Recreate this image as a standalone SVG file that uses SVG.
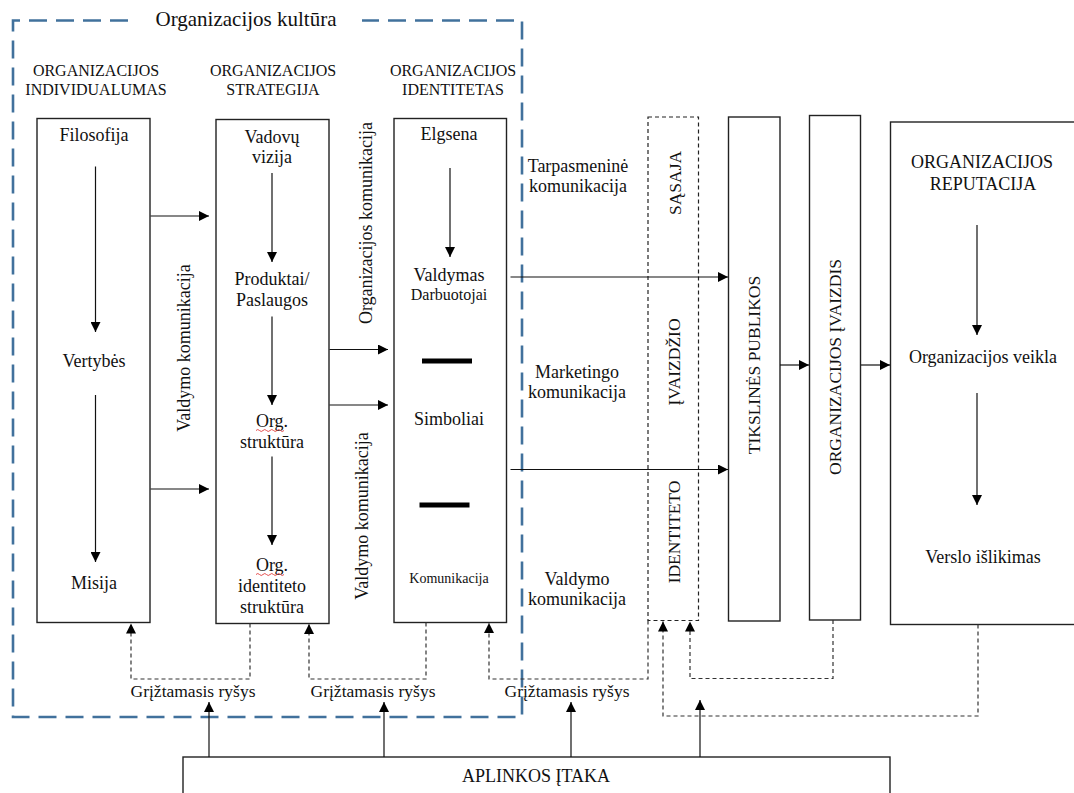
<svg xmlns="http://www.w3.org/2000/svg" width="1074" height="793" viewBox="0 0 1074 793" font-family="'Liberation Serif', 'Times New Roman', serif">
  <defs>
    <marker id="ah" markerUnits="userSpaceOnUse" markerWidth="11" markerHeight="10" refX="10" refY="5" orient="auto">
      <path d="M0,0 L10,5 L0,10 z" fill="#000"/>
    </marker>
    <style>
      text { font-family: "Liberation Serif", "Times New Roman", serif; fill: #111; }
      .c { text-anchor: middle; }
      .s18 { font-size: 18px; }
      .s17 { font-size: 17.5px; }
      .s16 { font-size: 16px; }
      .s14 { font-size: 14px; }
      .vt { text-anchor: middle; dominant-baseline: central; }
      .box { fill: #fff; stroke: #222; stroke-width: 1.4; }
      .dbox { fill: none; stroke: #222; stroke-width: 1.2; stroke-dasharray: 4 3; }
      .arr { fill: none; stroke: #111; stroke-width: 1.2; marker-end: url(#ah); }
      .fb { fill: none; stroke: #333; stroke-width: 1.2; stroke-dasharray: 4 3; marker-end: url(#ah); }
      .frame { fill: none; stroke: #41719C; stroke-width: 2.6; stroke-dasharray: 18 9; }
      .bar { fill: #000; }
      .sq { fill: none; stroke: #e23b3b; stroke-width: 0.9; }
    </style>
  </defs>

  <!-- culture frame -->
  <g id="culture">
    <path class="frame" d="M128 20.5 H13 V717 H522 V20.5 H362"/>
    <text class="c" x="246" y="25.5" style="font-size:21px">Organizacijos kultūra</text>
  </g>

  <!-- column headings -->
  <g id="headings" class="s16">
    <text class="c" x="96" y="76">ORGANIZACIJOS</text>
    <text class="c" x="96" y="95">INDIVIDUALUMAS</text>
    <text class="c" x="273" y="76">ORGANIZACIJOS</text>
    <text class="c" x="273" y="95">STRATEGIJA</text>
    <text class="c" x="453" y="76">ORGANIZACIJOS</text>
    <text class="c" x="453" y="95">IDENTITETAS</text>
  </g>

  <!-- individuality column -->
  <g id="individualumas" class="s18">
    <rect class="box" x="37" y="118.5" width="113" height="504"/>
    <text class="c" x="94" y="141">Filosofija</text>
    <text class="c" x="94" y="367">Vertybės</text>
    <text class="c" x="94" y="589">Misija</text>
  </g>

  <!-- strategy column -->
  <g id="strategija" class="s18">
    <rect class="box" x="216" y="119.5" width="113" height="504"/>
    <text class="c" x="272" y="143">Vadovų</text>
    <text class="c" x="272" y="163">vizija</text>
    <text class="c" x="272" y="285">Produktai/</text>
    <text class="c" x="272" y="306">Paslaugos</text>
    <text class="c" x="272" y="427">Org.</text>
    <text class="c" x="272" y="448">struktūra</text>
    <text class="c" x="272" y="571">Org.</text>
    <text class="c" x="272" y="592">identiteto</text>
    <text class="c" x="272" y="613">struktūra</text>
    <path class="sq" d="M256 430.5 q1.75 -2 3.5 0 t3.5 0 t3.5 0 t3.5 0 t3.5 0 t3.5 0 t3.5 0 t3.5 0"/>
    <path class="sq" d="M256 574.5 q1.75 -2 3.5 0 t3.5 0 t3.5 0 t3.5 0 t3.5 0 t3.5 0 t3.5 0 t3.5 0"/>
  </g>

  <!-- identity column -->
  <g id="identitetas" class="s18">
    <rect class="box" x="394" y="118.5" width="112.5" height="504"/>
    <text class="c" x="449" y="140">Elgsena</text>
    <text class="c" x="449" y="281">Valdymas</text>
    <text class="c s16" x="449" y="300">Darbuotojai</text>
    <rect class="bar" x="422" y="358.5" width="50" height="5"/>
    <text class="c" x="449" y="425">Simboliai</text>
    <rect class="bar" x="419.5" y="502.5" width="50" height="5"/>
    <text class="c s14" x="449" y="583">Komunikacija</text>
  </g>

  <!-- communication labels -->
  <g id="comm-labels" class="s18">
    <text class="vt" transform="translate(184,348) rotate(-90)">Valdymo komunikacija</text>
    <text class="vt" transform="translate(366,223) rotate(-90)">Organizacijos komunikacija</text>
    <text class="vt" transform="translate(362,516) rotate(-90)">Valdymo komunikacija</text>
    <text class="c" x="578" y="172">Tarpasmeninė</text>
    <text class="c" x="578" y="192">komunikacija</text>
    <text class="c" x="577" y="378">Marketingo</text>
    <text class="c" x="577" y="398">komunikacija</text>
    <text class="c" x="577" y="585">Valdymo</text>
    <text class="c" x="577" y="605">komunikacija</text>
  </g>

  <!-- interface box -->
  <g id="sasaja" class="s17">
    <rect class="dbox" x="648" y="117" width="50.5" height="503.5"/>
    <text class="vt" transform="translate(675,183) rotate(-90)">SĄSAJA</text>
    <text class="vt" transform="translate(674,362) rotate(-90)">ĮVAIZDŽIO</text>
    <text class="vt" transform="translate(674,532) rotate(-90)">IDENTITETO</text>
  </g>

  <g id="publikos" class="s17">
    <rect class="box" x="728.5" y="117" width="51.5" height="504"/>
    <text class="vt" transform="translate(754,365) rotate(-90)">TIKSLINĖS PUBLIKOS</text>
  </g>

  <g id="ivaizdis" class="s17">
    <rect class="box" x="809.5" y="115.5" width="51" height="504.5"/>
    <text class="vt" transform="translate(835,367) rotate(-90)">ORGANIZACIJOS ĮVAIZDIS</text>
  </g>

  <g id="reputacija" class="s18">
    <rect class="box" x="890.5" y="122" width="200" height="502.5"/>
    <text class="c" x="982" y="168">ORGANIZACIJOS</text>
    <text class="c" x="983" y="190">REPUTACIJA</text>
    <text class="c" x="983" y="363">Organizacijos veikla</text>
    <text class="c" x="983" y="563">Verslo išlikimas</text>
  </g>

  <g id="aplinka" class="s18">
    <rect class="box" x="183" y="757" width="707" height="60"/>
    <text class="c" x="536" y="782">APLINKOS ĮTAKA</text>
  </g>

  <g id="feedback-labels" class="s17">
    <text class="c" x="193" y="697">Grįžtamasis ryšys</text>
    <text class="c" x="373" y="697">Grįžtamasis ryšys</text>
    <text class="c" x="567" y="697">Grįžtamasis ryšys</text>
  </g>

  <!-- connectors -->
  <g id="connectors">
    <!-- inside columns -->
    <path class="arr" d="M95.5 166.5 V332"/>
    <path class="arr" d="M95.5 395 V562"/>
    <path class="arr" d="M272 173 V262"/>
    <path class="arr" d="M272 316.5 V405"/>
    <path class="arr" d="M272 456.5 V545"/>
    <path class="arr" d="M450 168 V257"/>
    <path class="arr" d="M977 225 V335"/>
    <path class="arr" d="M977 393 V505"/>
    <!-- between columns -->
    <path class="arr" d="M150.5 216 H209"/>
    <path class="arr" d="M150.5 489 H209"/>
    <path class="arr" d="M329.5 349.5 H388"/>
    <path class="arr" d="M329.5 405 H388"/>
    <path class="arr" d="M510.5 277 H728"/>
    <path class="arr" d="M510.5 469.5 H728"/>
    <path class="arr" d="M780 365 H809"/>
    <path class="arr" d="M861 365 H890"/>
    <!-- feedback loops -->
    <path class="fb" d="M250 623.5 V679 H131 V623.5"/>
    <path class="fb" d="M426 622.5 V679 H309 V624"/>
    <path class="fb" d="M648 620.5 V679 H489 V623"/>
    <path class="fb" d="M978 624.5 V716 H663 V621.5"/>
    <path class="fb" d="M833 620 V678.5 H690 V621.5"/>
    <!-- environment influence -->
    <path class="arr" d="M209 757 V702"/>
    <path class="arr" d="M384 757 V702"/>
    <path class="arr" d="M571 757 V702"/>
    <path class="arr" d="M700 757 V700"/>
  </g>
</svg>
